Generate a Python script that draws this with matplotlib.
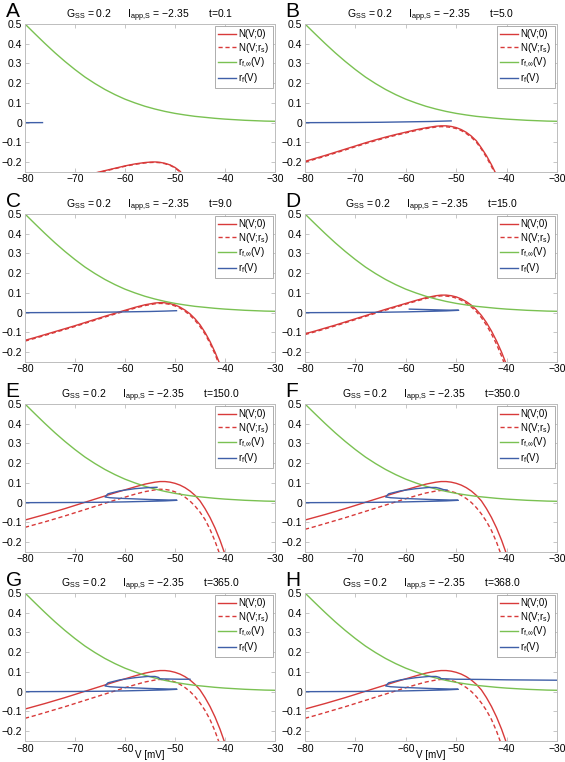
import matplotlib
matplotlib.use('Agg')
import matplotlib.pyplot as plt

plt.rcParams['font.family'] = ['Liberation Sans', 'DejaVu Sans']
plt.rcParams['mathtext.fontset'] = 'custom'
plt.rcParams['mathtext.rm'] = 'Liberation Sans'
plt.rcParams['mathtext.it'] = 'Liberation Sans:italic'
plt.rcParams['mathtext.sf'] = 'Liberation Sans'

# ---------------- data ----------------
PANELS = ['A', 'B', 'C', 'D', 'E', 'F', 'G', 'H']
TIMES = ['0.1', '5.0', '9.0', '15.0', '150.0', '350.0', '365.0', '368.0']
G_SS = '0.2'
I_APP = '\u22122.35'

X_TICKS = [-80, -70, -60, -50, -40, -30]
X_TICK_LABELS = ['\u221280', '\u221270', '\u221260', '\u221250', '\u221240', '\u221230']
Y_TICKS = [-0.2, -0.1, 0.0, 0.1, 0.2, 0.3, 0.4, 0.5]
Y_TICK_LABELS = ['\u22120.2', '\u22120.1', '0', '0.1', '0.2', '0.3', '0.4', '0.5']
LEGEND_LABELS = ['N(V;0)', r'N(V;r$_{\mathrm{s}}$)', r'r$_{\mathrm{f{,}}\infty}$(V)', r'r$_{\mathrm{f}}$(V)']

# voltage grid for the N-nullclines
V_GRID = [-80, -78, -76, -74, -72, -70, -68, -66, -64, -62, -60, -58, -56, -54,
          -53, -52, -51, -50, -49, -48, -47, -46, -45, -44, -43, -42, -41, -40]

V_A = [-66, -64, -62, -60, -58, -56, -55, -54, -53, -52, -51, -50, -49, -48.5]
N0_A = [-0.255, -0.243, -0.231, -0.219, -0.209, -0.202, -0.200, -0.199, -0.201,
        -0.206, -0.214, -0.227, -0.246, -0.262]
NRS_A = [-0.257, -0.245, -0.233, -0.221, -0.211, -0.204, -0.202, -0.201, -0.203,
         -0.208, -0.216, -0.229, -0.250, -0.264]

N0_B = [-0.196, -0.181, -0.166, -0.150, -0.134, -0.118, -0.102, -0.087, -0.073, -0.060,
        -0.048, -0.036, -0.026, -0.018, -0.016, -0.016, -0.019, -0.025, -0.035, -0.049,
        -0.068, -0.092, -0.128, -0.167, -0.213, -0.265]
NRS_B = [-0.200, -0.185, -0.170, -0.154, -0.138, -0.122, -0.106, -0.091, -0.077, -0.064,
         -0.052, -0.040, -0.030, -0.022, -0.020, -0.021, -0.024, -0.030, -0.040, -0.055,
         -0.074, -0.099, -0.134, -0.175, -0.222, -0.275]

N0_C = [-0.140, -0.126, -0.111, -0.096, -0.081, -0.066, -0.050, -0.034, -0.018, -0.003,
        0.012, 0.027, 0.040, 0.049, 0.051, 0.050, 0.046, 0.039, 0.028, 0.013,
        -0.006, -0.031, -0.061, -0.100, -0.146, -0.200, -0.262]
NRS_C = [-0.144, -0.130, -0.115, -0.100, -0.085, -0.070, -0.054, -0.038, -0.022, -0.007,
         0.008, 0.023, 0.036, 0.045, 0.047, 0.046, 0.042, 0.034, 0.023, 0.007,
         -0.013, -0.039, -0.070, -0.108, -0.155, -0.210, -0.275]

N0_D = [-0.107, -0.093, -0.078, -0.063, -0.047, -0.031, -0.015, 0.001, 0.017, 0.032,
        0.047, 0.062, 0.076, 0.086, 0.089, 0.089, 0.086, 0.080, 0.070, 0.056,
        0.038, 0.015, -0.014, -0.050, -0.093, -0.143, -0.200, -0.265]
NRS_D = [-0.111, -0.097, -0.082, -0.067, -0.051, -0.035, -0.019, -0.003, 0.013, 0.028,
         0.043, 0.058, 0.072, 0.082, 0.085, 0.084, 0.081, 0.074, 0.063, 0.048,
         0.029, 0.005, -0.025, -0.063, -0.108, -0.160, -0.220, -0.290]

N0_E = [-0.088, -0.074, -0.060, -0.045, -0.030, -0.014, 0.002, 0.018, 0.034, 0.050,
        0.065, 0.080, 0.094, 0.104, 0.107, 0.107, 0.104, 0.098, 0.089, 0.076,
        0.059, 0.037, 0.009, -0.030, -0.075, -0.128, -0.190, -0.262]
NRS_E = [-0.125, -0.111, -0.097, -0.082, -0.067, -0.051, -0.035, -0.019, -0.003, 0.013,
         0.028, 0.043, 0.056, 0.065, 0.068, 0.067, 0.063, 0.055, 0.044, 0.028,
         0.008, -0.017, -0.048, -0.085, -0.135, -0.195, -0.265]
N0_FGH = [-0.088, -0.074, -0.060, -0.045, -0.030, -0.014, 0.002, 0.018, 0.034, 0.050,
          0.065, 0.080, 0.094, 0.104, 0.107, 0.107, 0.104, 0.098, 0.089, 0.076,
          0.059, 0.037, 0.009, -0.030, -0.075, -0.128, -0.190, -0.262]
NRS_FGH = [-0.135, -0.121, -0.106, -0.091, -0.076, -0.060, -0.044, -0.028, -0.012, 0.004,
           0.020, 0.035, 0.049, 0.059, 0.062, 0.061, 0.057, 0.049, 0.037, 0.021,
           0.001, -0.025, -0.057, -0.095, -0.141, -0.200, -0.270]

# steady-state activation r_f,inf(V)
V_INF = [-80, -78, -76, -74, -72, -70, -68, -66, -64, -62, -60, -58, -56, -54, -52,
         -50, -48, -46, -44, -42, -40, -38, -36, -34, -32, -30]
RF_INF = [0.500, 0.450, 0.401, 0.354, 0.310, 0.269, 0.231, 0.198, 0.168, 0.142,
          0.119, 0.100, 0.083, 0.069, 0.057, 0.047, 0.039, 0.032, 0.027, 0.022,
          0.018, 0.015, 0.012, 0.010, 0.008, 0.007]

# trajectories r_f(V)
RFV_A = [-80, -76.5]
RF_A = [0.0, 0.0003]
RFV_B = [-80, -75, -70, -65, -60, -55, -51]
RF_B = [0.0, 0.0005, 0.001, 0.002, 0.004, 0.006, 0.009]
RFV_C = [-80, -75, -70, -65, -60, -55, -52, -49.7]
RF_C = [0.0, 0.0005, 0.001, 0.002, 0.004, 0.006, 0.008, 0.010]
RFV_D = [-80, -75, -70, -65, -60, -55, -52, -49.5, -52, -55, -59.3]
RF_D = [0.0, 0.0005, 0.001, 0.002, 0.004, 0.007, 0.009, 0.012, 0.013, 0.015, 0.018]
RFV_E = [-80, -75, -70, -65, -60, -55, -52, -49.6, -52, -55, -58, -61, -63, -64.0,
         -63.4, -61, -58, -55.5, -53.6]
RF_E = [0.0, 0.0005, 0.001, 0.002, 0.004, 0.007, 0.009, 0.012, 0.014, 0.016, 0.019,
        0.022, 0.025, 0.029, 0.045, 0.060, 0.071, 0.076, 0.078]
RFV_F = [-80, -75, -70, -65, -60, -55, -52, -49.6, -52, -55, -58, -61, -63, -64.0,
         -63.4, -61, -58, -55.5, -54, -53.2, -52.5, -51.8]
RF_F = [0.0, 0.0005, 0.001, 0.002, 0.004, 0.007, 0.009, 0.012, 0.014, 0.016, 0.019,
        0.022, 0.025, 0.029, 0.045, 0.060, 0.071, 0.077, 0.077, 0.072, 0.066, 0.064]
RFV_G = [-80, -75, -70, -65, -60, -55, -52, -49.6, -52, -55, -58, -61, -63, -64.0,
         -63.4, -61, -58, -55.5, -54, -53.3, -53, -51, -49, -47]
RF_G = [0.0, 0.0005, 0.001, 0.002, 0.004, 0.007, 0.009, 0.012, 0.014, 0.016, 0.019,
        0.022, 0.025, 0.029, 0.045, 0.060, 0.071, 0.077, 0.077, 0.072, 0.065, 0.064,
        0.063, 0.063]
RFV_H = [-80, -75, -70, -65, -60, -55, -52, -49.6, -52, -55, -58, -61, -63, -64.0,
         -63.4, -61, -58, -55.5, -54, -53.3, -53, -50, -45, -40, -35, -30]
RF_H = [0.0, 0.0005, 0.001, 0.002, 0.004, 0.007, 0.009, 0.012, 0.014, 0.016, 0.019,
        0.022, 0.025, 0.029, 0.045, 0.060, 0.071, 0.077, 0.077, 0.072, 0.066, 0.063,
        0.062, 0.060, 0.059, 0.058]

N_SETS = [
    (V_A, N0_A, NRS_A),
    (V_GRID, N0_B, NRS_B),
    (V_GRID, N0_C, NRS_C),
    (V_GRID, N0_D, NRS_D),
    (V_GRID, N0_E, NRS_E),
    (V_GRID, N0_FGH, NRS_FGH),
    (V_GRID, N0_FGH, NRS_FGH),
    (V_GRID, N0_FGH, NRS_FGH),
]
RF_SETS = [(RFV_A, RF_A), (RFV_B, RF_B), (RFV_C, RF_C), (RFV_D, RF_D),
           (RFV_E, RF_E), (RFV_F, RF_F), (RFV_G, RF_G), (RFV_H, RF_H)]

# ---------------- style ----------------
RED = '#d83a3a'
GREEN = '#7ac152'
BLUE = '#3f5fa8'
FRAME = '#bdbdbd'

W, H = 565, 762
fig = plt.figure(figsize=(W / 100, H / 100), dpi=100)

col_left = [25, 305]
col_width = [250, 252]
row_top = [24, 214, 404, 593]
ax_h = 148

for i, letter in enumerate(PANELS):
    r, c = divmod(i, 2)
    x0 = col_left[c]
    top = row_top[r]
    ax = fig.add_axes([x0 / W, 1 - (top + ax_h) / H, col_width[c] / W, ax_h / H])

    vv, n0, nrs = N_SETS[i]
    l1, = ax.plot(vv[:len(n0)], n0, color=RED, lw=1.0)
    l2, = ax.plot(vv[:len(nrs)], nrs, color=RED, lw=1.0, ls=(0, (3, 2)))
    l3, = ax.plot(V_INF, RF_INF, color=GREEN, lw=1.0)
    rv, rr = RF_SETS[i]
    l4, = ax.plot(rv, rr, color=BLUE, lw=1.0)

    ax.set_xlim(-80, -30)
    ax.set_ylim(-0.25, 0.5)
    ax.set_xticks(X_TICKS)
    ax.set_xticklabels(X_TICK_LABELS)
    ax.set_yticks(Y_TICKS)
    ax.set_yticklabels(Y_TICK_LABELS)
    ax.tick_params(direction='in', length=3, width=0.6, color=FRAME,
                   labelsize=7.5, top=True, right=True)
    ax.tick_params(axis='x', pad=1.8)
    ax.tick_params(axis='y', pad=1.8)
    for s in ax.spines.values():
        s.set_color(FRAME)
        s.set_linewidth(0.7)

    ax.set_title(r'G$_{\mathrm{SS}}$ = ' + G_SS + r'      I$_{\mathrm{app{,}S}}$ = ' + I_APP
                 + '       t=' + TIMES[i], fontsize=7.5, pad=4)

    leg = ax.legend([l1, l2, l3, l4], LEGEND_LABELS, loc='upper right', fontsize=7,
                    frameon=True, fancybox=False, framealpha=1, edgecolor='#a0a0a0',
                    borderaxespad=0.25, handlelength=1.8, handletextpad=0.3,
                    labelspacing=0.12, borderpad=0.3)
    leg.get_frame().set_linewidth(0.6)

    if r == 3:
        ax.set_xlabel('V [mV]', fontsize=7)
        ax.xaxis.set_label_coords(0.5, -0.095)
        ax.xaxis.label.set_va('center')

    fig.text((x0 - 20) / W, 1 - (top - 7) / H, r'$\mathrm{' + letter + '}$',
             fontsize=15, ha='left', va='baseline')

fig.savefig('out.png', dpi=100)
